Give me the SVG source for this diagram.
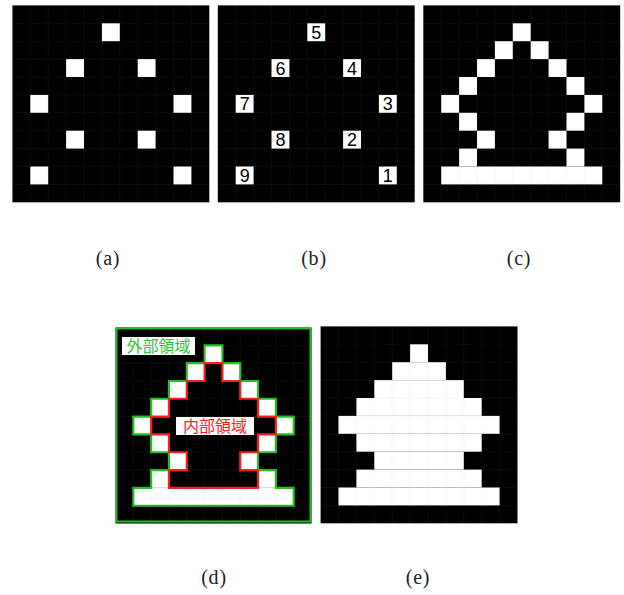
<svg xmlns="http://www.w3.org/2000/svg" xmlns:xlink="http://www.w3.org/1999/xlink" width="624" height="595" viewBox="0 0 624 595">
<style>
.bg{fill:#000}
.w{fill:#fff}
.grid{fill:none;stroke:#8a8a8a;stroke-opacity:0.08;stroke-width:0.06}
.dig{font-family:"Liberation Sans",Arial,sans-serif;font-size:18px;fill:#000;text-anchor:middle}
.cap{font-family:"Liberation Serif","Times New Roman",serif;font-size:20px;fill:#222;text-anchor:middle;letter-spacing:0.8px}
.jp{font-family:"Noto Sans CJK JP","Noto Sans CJK SC",sans-serif;font-size:16px;text-anchor:middle}
</style>
<defs>
<path id="grid" class="grid" d="M0 0V11M1 0V11M2 0V11M3 0V11M4 0V11M5 0V11M6 0V11M7 0V11M8 0V11M9 0V11M10 0V11M11 0V11M0 0H11M0 1H11M0 2H11M0 3H11M0 4H11M0 5H11M0 6H11M0 7H11M0 8H11M0 9H11M0 10H11M0 11H11"/>
<g id="dots">
<rect class="w" x="5" y="1" width="1" height="1"/>
<rect class="w" x="3" y="3" width="1" height="1"/>
<rect class="w" x="7" y="3" width="1" height="1"/>
<rect class="w" x="1" y="5" width="1" height="1"/>
<rect class="w" x="9" y="5" width="1" height="1"/>
<rect class="w" x="3" y="7" width="1" height="1"/>
<rect class="w" x="7" y="7" width="1" height="1"/>
<rect class="w" x="1" y="9" width="1" height="1"/>
<rect class="w" x="9" y="9" width="1" height="1"/>
</g>
<g id="outline">
<rect class="w" x="5" y="1" width="1" height="1"/>
<rect class="w" x="4" y="2" width="1" height="1"/>
<rect class="w" x="6" y="2" width="1" height="1"/>
<rect class="w" x="3" y="3" width="1" height="1"/>
<rect class="w" x="7" y="3" width="1" height="1"/>
<rect class="w" x="2" y="4" width="1" height="1"/>
<rect class="w" x="8" y="4" width="1" height="1"/>
<rect class="w" x="1" y="5" width="1" height="1"/>
<rect class="w" x="9" y="5" width="1" height="1"/>
<rect class="w" x="2" y="6" width="1" height="1"/>
<rect class="w" x="8" y="6" width="1" height="1"/>
<rect class="w" x="3" y="7" width="1" height="1"/>
<rect class="w" x="7" y="7" width="1" height="1"/>
<rect class="w" x="2" y="8" width="1" height="1"/>
<rect class="w" x="8" y="8" width="1" height="1"/>
<rect class="w" x="1" y="9" width="9" height="1"/>
</g>
</defs>
<rect width="624" height="595" fill="#fff"/>

<g id="panel-a" transform="translate(12.4,5.4) scale(17.9)">
<rect class="bg" width="11" height="11"/>
<use xlink:href="#dots"/>
<use xlink:href="#grid"/>
</g>

<g id="panel-b">
<g transform="translate(217.8,5.4) scale(17.9)">
<rect class="bg" width="11" height="11"/>
<use xlink:href="#dots"/>
<use xlink:href="#grid"/>
</g>
<text class="dig" x="316.2" y="38.8">5</text>
<text class="dig" x="280.4" y="74.6">6</text>
<text class="dig" x="352.0" y="74.6">4</text>
<text class="dig" x="244.7" y="110.4">7</text>
<text class="dig" x="387.8" y="110.4">3</text>
<text class="dig" x="280.4" y="146.2">8</text>
<text class="dig" x="352.0" y="146.2">2</text>
<text class="dig" x="244.7" y="182.0">9</text>
<text class="dig" x="387.8" y="182.0">1</text>
</g>

<g id="panel-c" transform="translate(423.3,5.4) scale(17.9)">
<rect class="bg" width="11" height="11"/>
<use xlink:href="#outline"/>
<use xlink:href="#grid"/>
</g>

<g id="panel-d">
<g transform="translate(115.5,327.5) scale(17.82)">
<rect class="bg" width="11" height="11"/>
<use xlink:href="#outline"/>
<use xlink:href="#grid"/>
<path d="M5 1H6V2H7V3H8V4H9V5H10V6H9V7H8V8H9V9H10V10H1V9H2V8H3V7H2V6H1V5H2V4H3V3H4V2H5Z" fill="none" stroke="#22c022" stroke-width="0.12"/>
<path d="M5 2H6V3H7V4H8V5H9V6H8V7H7V8H8V9H3V8H4V7H3V6H2V5H3V4H4V3H5Z" fill="none" stroke="#ff1c1c" stroke-width="0.12"/>
</g>
<rect x="116.5" y="328.5" width="194" height="193" fill="none" stroke="#22c022" stroke-width="2"/>
<rect x="122" y="337" width="73" height="18" fill="#fff"/>
<text class="jp" x="158.5" y="352" fill="#33c433">外部領域</text>
<rect x="176" y="417" width="78" height="18" fill="#fff"/>
<text class="jp" x="215" y="432" fill="#ff2020" font-size="17">内部領域</text>
</g>

<g id="panel-e" transform="translate(320.6,326.4) scale(17.9)">
<rect class="bg" width="11" height="11"/>
<rect class="w" x="5" y="1" width="1" height="1"/>
<rect class="w" x="4" y="2" width="3" height="1"/>
<rect class="w" x="3" y="3" width="5" height="1"/>
<rect class="w" x="2" y="4" width="7" height="1"/>
<rect class="w" x="1" y="5" width="9" height="1"/>
<rect class="w" x="2" y="6" width="7" height="1"/>
<rect class="w" x="3" y="7" width="5" height="1"/>
<rect class="w" x="2" y="8" width="7" height="1"/>
<rect class="w" x="1" y="9" width="9" height="1"/>
<use xlink:href="#grid"/>
</g>

<g id="connectors"/>

<g id="captions">
<text class="cap" x="108" y="265">(a)</text>
<text class="cap" x="314" y="265">(b)</text>
<text class="cap" x="519" y="265">(c)</text>
<text class="cap" x="214" y="584">(d)</text>
<text class="cap" x="418" y="584">(e)</text>
</g>
</svg>
